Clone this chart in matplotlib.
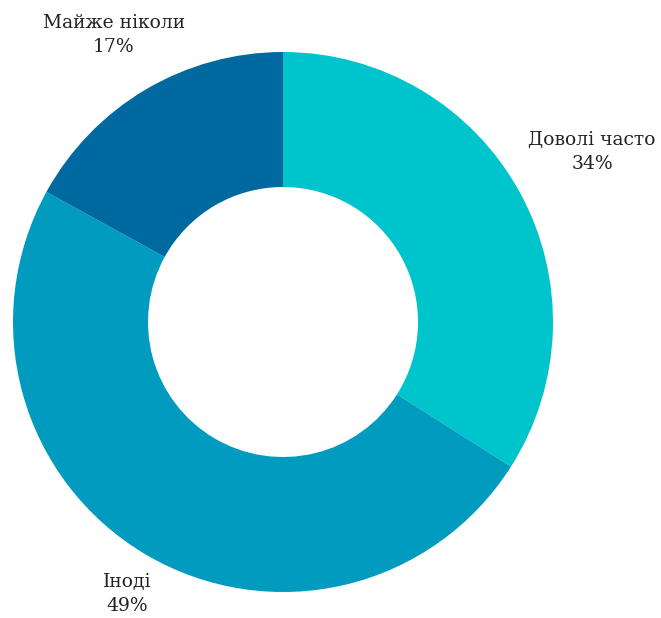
import matplotlib
matplotlib.use("Agg")
import matplotlib.pyplot as plt

categories = ["Доволі часто", "Іноді", "Майже ніколи"]
values = [34, 49, 17]
colors = ["#00C4CC", "#009BBF", "#0069A0"]

W, H = 661, 618
fig = plt.figure(figsize=(W / 100, H / 100), dpi=100)
ax = fig.add_axes([0, 0, 1, 1])

cx, cy, R = 283, H - 322, 270
ax.pie(values, colors=colors, startangle=90, counterclock=False,
       center=(cx, cy), radius=R, wedgeprops=dict(width=R * 0.5, linewidth=0),
       frame=True)
ax.set_xlim(0, W)
ax.set_ylim(0, H)
ax.set_aspect("equal")
ax.axis("off")

label_pos = [(592, H - 152), (127, H - 594), (114, H - 35)]
for cat, v, (x, y) in zip(categories, values, label_pos):
    ax.text(x, y, f"{cat}\n{v}%", ha="center", va="center",
            fontsize=13.5, family="DejaVu Serif", color="#222222",
            linespacing=1.48)

fig.savefig("out.png", dpi=100)
